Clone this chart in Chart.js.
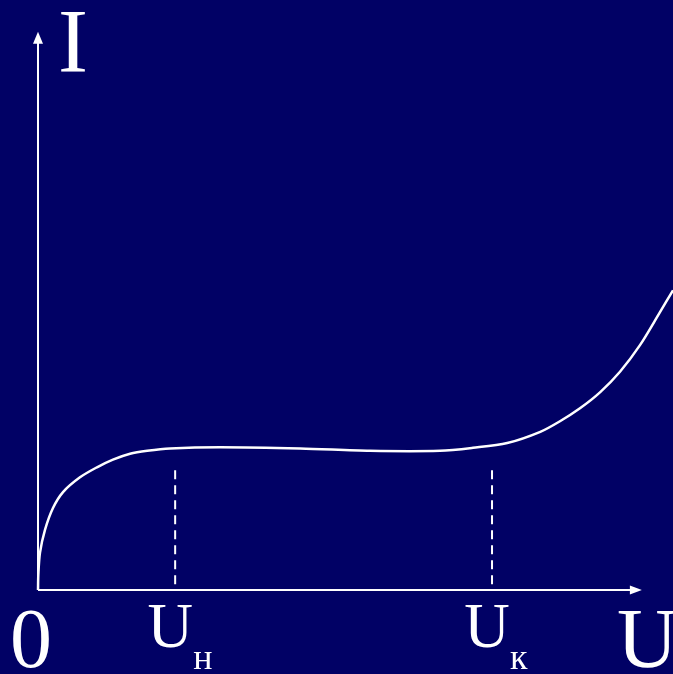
<!DOCTYPE html>
<html>
<head>
<meta charset="utf-8">
<script src="https://cdn.jsdelivr.net/npm/chart.js@4/dist/chart.umd.min.js"></script>
<style>
  html, body { margin: 0; padding: 0; background: #010165; }
  canvas { display: block; }
</style>
</head>
<body>
<canvas id="c" width="673" height="674"></canvas>
<script>
// ── Data: current-voltage curve ──
const voltage = [0, 0.05, 0.31, 1.1, 2.36, 3.94, 6.61, 9.29, 11.8, 14.5, 17.2, 20.8, 28.7, 41.3, 52.3, 63.3, 68.5, 73.9, 79.1, 82.2, 85.35, 88.5, 91.65, 94.8, 97.95, 100];
const current = [0, 2.5, 6.3, 10.2, 13.9, 16.6, 19.1, 20.8, 22.1, 23.1, 23.6, 24.0, 24.2, 24.0, 23.6, 23.6, 24.1, 24.9, 26.8, 28.6, 30.8, 33.5, 37.0, 41.5, 47.1, 50.8];

// marked voltages (Uн, Uк) and height of the dashed markers
const markU = [21.6, 71.5];
const markTop = 20.3;

// axis ends (arrow tips)
const axisEndU = 95.1;
const axisEndI = 94.6;

const labelFont = '"Liberation Serif", "Times New Roman", serif';
const WHITE = '#ffffff';

const curve = voltage.map((u, i) => ({ x: u, y: current[i] }));
// dashes drawn top-down so the pattern starts at the top like the original
const markSets = markU.map(u => ({
    data: [{ x: u, y: markTop }, { x: u, y: 0 }],
    borderColor: WHITE, borderWidth: 2, borderDash: [9, 6], pointRadius: 0, tension: 0
}));

// ── Axes with arrows + labels ──
const axesPlugin = {
    id: 'axes',
    afterDatasetsDraw(chart) {
        const { ctx, scales: { x, y } } = chart;
        const x0 = x.getPixelForValue(0), y0 = y.getPixelForValue(0);
        const xe = x.getPixelForValue(axisEndU), ye = y.getPixelForValue(axisEndI);
        ctx.save();
        ctx.strokeStyle = WHITE; ctx.fillStyle = WHITE; ctx.lineWidth = 2;
        ctx.beginPath();
        ctx.moveTo(x0, y0); ctx.lineTo(x0, ye + 10);
        ctx.moveTo(x0, y0); ctx.lineTo(xe - 10, y0);
        ctx.stroke();
        // arrow heads
        ctx.beginPath();
        ctx.moveTo(x0, ye); ctx.lineTo(x0 - 5, ye + 12); ctx.lineTo(x0 + 5, ye + 12); ctx.closePath();
        ctx.fill();
        ctx.beginPath();
        ctx.moveTo(xe, y0); ctx.lineTo(xe - 12, y0 - 4.5); ctx.lineTo(xe - 12, y0 + 4.5); ctx.closePath();
        ctx.fill();

        // labels
        ctx.textBaseline = 'alphabetic';
        ctx.textAlign = 'center';
        ctx.font = '90px ' + labelFont;
        ctx.fillText('I', x0 + 35, 72);
        ctx.font = '84px ' + labelFont;
        ctx.fillText('0', x0 - 7, y0 + 77);
        ctx.textAlign = 'left';
        ctx.fillText('U', 617, y0 + 77);
        const subs = ['н', 'к'];
        markU.forEach((u, i) => {
            const px = x.getPixelForValue(u);
            ctx.textAlign = 'center';
            ctx.font = '63px ' + labelFont;
            ctx.fillText('U', px - 5, y0 + 57);
            ctx.textAlign = 'left';
            ctx.font = '36px ' + labelFont;
            ctx.fillText(subs[i], px + 18, y0 + 79);
        });
        ctx.restore();
    }
};

new Chart(document.getElementById('c'), {
    type: 'line',
    data: {
        datasets: [
            { data: curve, borderColor: WHITE, borderWidth: 2.5, pointRadius: 0, tension: 0.3 },
            ...markSets
        ]
    },
    options: {
        responsive: false, animation: false,
        layout: { padding: { left: 38, right: 0, top: 0, bottom: 84 } },
        plugins: { legend: { display: false }, tooltip: { enabled: false } },
        scales: {
            x: { type: 'linear', min: 0, max: 100, display: false },
            y: { type: 'linear', min: 0, max: 100, display: false }
        },
        clip: false
    },
    plugins: [axesPlugin]
});
</script>
</body>
</html>
